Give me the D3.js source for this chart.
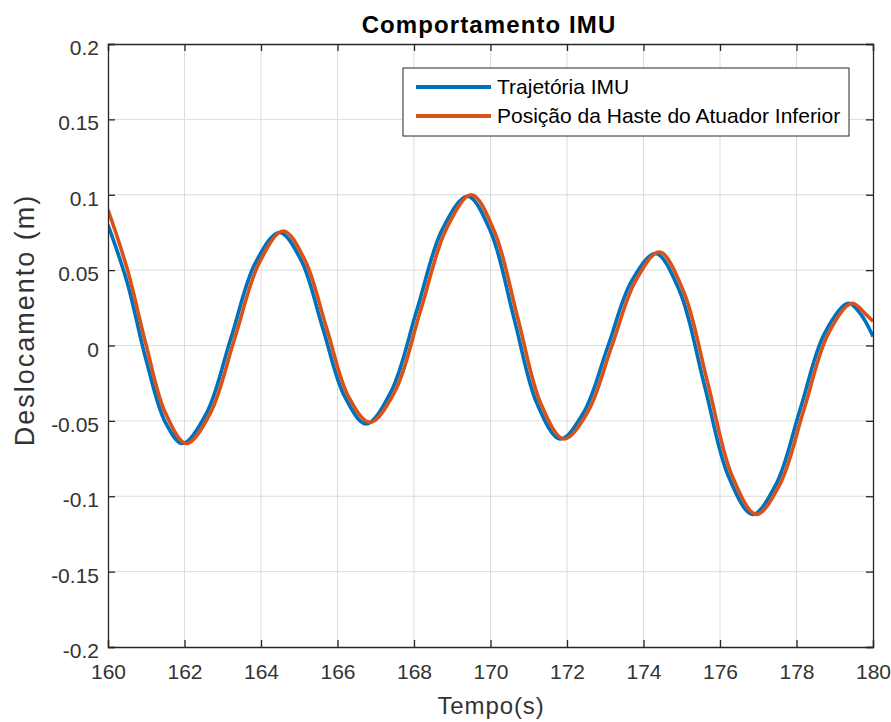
<!DOCTYPE html>
<html>
<head>
<meta charset="utf-8">
<script src="https://cdn.jsdelivr.net/npm/d3@7"></script>
<style>
body{margin:0;background:#fff;}
text{font-family:"Liberation Sans", Arial, Helvetica, sans-serif;}
</style>
</head>
<body>
<div id="content"></div>
<script>
// dados
var tempoImu = [160.0,160.5,161.0,161.5,161.95,162.58,163.215,163.85,164.48,165.05,165.615,166.18,166.75,167.41,168.075,168.74,169.4,170.005,170.61,171.215,171.82,172.445,173.07,173.695,174.32,174.95,175.585,176.22,176.85,177.475,178.1,178.725,179.35,179.7,180.0];
var imu = [0.080,0.042,-0.010,-0.051,-0.065,-0.0446,0.005,0.0546,0.075,0.0565,0.0115,-0.0335,-0.052,-0.030,0.0235,0.077,0.099,0.0755,0.0185,-0.0385,-0.062,-0.044,-0.0005,0.043,0.061,0.0357,-0.0255,-0.0867,-0.112,-0.0916,-0.042,0.0076,0.028,0.020,0.006];

var tempoHaste = [160.0,160.5,161.0,161.5,162.05,162.68,163.315,163.95,164.58,165.15,165.715,166.28,166.85,167.51,168.175,168.84,169.5,170.105,170.71,171.315,171.92,172.545,173.17,173.795,174.42,175.05,175.685,176.32,176.95,177.575,178.2,178.825,179.45,179.8,180.0];
var haste = [0.090,0.051,0.000,-0.0447,-0.065,-0.0446,0.005,0.0546,0.076,0.0565,0.0115,-0.0335,-0.051,-0.030,0.0235,0.077,0.100,0.0755,0.0185,-0.0385,-0.062,-0.044,-0.0005,0.043,0.062,0.0357,-0.0255,-0.0867,-0.112,-0.0916,-0.042,0.0076,0.028,0.021,0.016];

var xTicks = [160,162,164,166,168,170,172,174,176,178,180];
var yTicks = [-0.2,-0.15,-0.1,-0.05,0,0.05,0.1,0.15,0.2];
var yTickLabels = ['-0.2','-0.15','-0.1','-0.05','0','0.05','0.1','0.15','0.2'];
var nomes = ['Trajetória IMU','Posição da Haste do Atuador Inferior'];
var cores = ['#0072BD','#D95319'];

var width = 891, height = 722;
var pLeft = 108, pRight = 873, pTop = 44, pBottom = 647;
var axisColor = '#262626';

var svg = d3.select('#content').append('svg')
	.attr('width', width)
	.attr('height', height);

var x = d3.scaleLinear().domain([160,180]).range([pLeft,pRight]);
var y = d3.scaleLinear().domain([-0.2,0.2]).range([pBottom,pTop]);

// grade
svg.append('g').selectAll('line').data(xTicks.slice(1,-1)).enter().append('line')
	.attr('x1', function(d){return x(d);}).attr('x2', function(d){return x(d);})
	.attr('y1', pTop).attr('y2', pBottom)
	.attr('stroke', '#dcdcdc').attr('stroke-width', 1);
svg.append('g').selectAll('line').data(yTicks.slice(1,-1)).enter().append('line')
	.attr('x1', pLeft).attr('x2', pRight)
	.attr('y1', function(d){return y(d);}).attr('y2', function(d){return y(d);})
	.attr('stroke', '#dcdcdc').attr('stroke-width', 1);

// curvas
svg.append('clipPath').attr('id','clip').append('rect')
	.attr('x', pLeft).attr('y', pTop).attr('width', pRight-pLeft).attr('height', pBottom-pTop);

var series = [
	{t: tempoImu, v: imu},
	{t: tempoHaste, v: haste}
];
var linha = d3.line()
	.x(function(d){return x(d[0]);})
	.y(function(d){return y(d[1]);})
	.curve(d3.curveCatmullRom.alpha(0.5));

for(var i=0; i<series.length; i++){
	var pts = series[i].t.map(function(t, j){return [t, series[i].v[j]];});
	svg.append('path')
		.attr('d', linha(pts))
		.attr('fill', 'none')
		.attr('stroke', cores[i])
		.attr('stroke-width', 3.6)
		.attr('stroke-linejoin', 'round')
		.attr('clip-path', 'url(#clip)');
}

// eixos (caixa com ticks para dentro)
var xAxisB = d3.axisBottom(x).tickValues(xTicks).tickSize(-7).tickPadding(17).tickFormat(d3.format('d'));
var xAxisT = d3.axisTop(x).tickValues(xTicks).tickSize(-7).tickFormat('');
var yAxisL = d3.axisLeft(y).tickValues(yTicks).tickSize(-7).tickPadding(9)
	.tickFormat(function(d, i){return yTickLabels[i];});
var yAxisR = d3.axisRight(y).tickValues(yTicks).tickSize(-7).tickFormat('');

function estilo(g){
	g.select('.domain').attr('stroke', axisColor).attr('stroke-width', 1.3);
	g.selectAll('.tick line').attr('stroke', axisColor).attr('stroke-width', 1.3);
	g.selectAll('.tick text').attr('fill', '#333').attr('font-size', 21)
		.attr('font-family', '"Liberation Sans", Arial, sans-serif');
}
svg.append('g').attr('transform','translate(0,'+pBottom+')').call(xAxisB).call(estilo);
svg.append('g').attr('transform','translate(0,'+pTop+')').call(xAxisT).call(estilo);
svg.append('g').attr('transform','translate('+pLeft+',0)').call(yAxisL).call(estilo)
	.selectAll('.tick text').attr('dy', '0.5em');
svg.append('g').attr('transform','translate('+pRight+',0)').call(yAxisR).call(estilo);

// titulo e rotulos
svg.append('text')
	.attr('x', 489).attr('y', 33)
	.attr('text-anchor', 'middle')
	.attr('font-size', 24).attr('font-weight', 'bold')
	.attr('letter-spacing', '1.1px')
	.attr('fill', '#000')
	.text('Comportamento IMU');

svg.append('text')
	.attr('x', 491).attr('y', 714)
	.attr('text-anchor', 'middle')
	.attr('font-size', 24)
	.attr('letter-spacing', '0.9px')
	.attr('fill', '#333')
	.text('Tempo(s)');

svg.append('text')
	.attr('transform', 'translate(34,320) rotate(-90)')
	.attr('text-anchor', 'middle')
	.attr('font-size', 27)
	.attr('letter-spacing', '2px')
	.attr('fill', '#333')
	.text('Deslocamento (m)');

// legenda
var leg = svg.append('g');
leg.append('rect')
	.attr('x', 403).attr('y', 68).attr('width', 446).attr('height', 68)
	.attr('fill', '#fff').attr('stroke', axisColor).attr('stroke-width', 1);
for(var k=0; k<nomes.length; k++){
	var ly = 87 + k*29;
	leg.append('line')
		.attr('x1', 416).attr('x2', 491).attr('y1', ly).attr('y2', ly)
		.attr('stroke', cores[k]).attr('stroke-width', 4);
	leg.append('text')
		.attr('x', 497).attr('y', ly + 7)
		.attr('font-size', 21)
		.attr('fill', '#000')
		.text(nomes[k]);
}
</script>
</body>
</html>
